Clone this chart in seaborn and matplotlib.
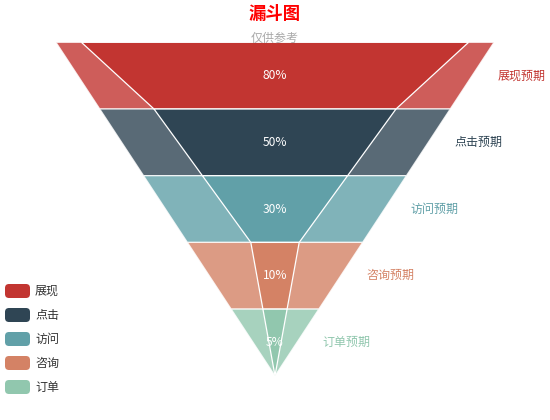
import matplotlib
matplotlib.use('Agg')
import matplotlib.pyplot as plt
import seaborn as sns
from matplotlib.patches import Polygon, FancyBboxPatch

# ---- data ----
stages = ['展现', '点击', '访问', '咨询', '订单']
expected = [100, 80, 60, 40, 20]
actual = [80, 50, 30, 10, 5]
colors_hex = ['#c23531', '#2f4554', '#61a0a8', '#d48265', '#91c7ae']
title_text = '漏斗图'
subtitle_text = '仅供参考'
expected_suffix = '预期'

sns.set_theme(style='white')
plt.rcParams['font.family'] = ['Noto Sans CJK SC', 'DejaVu Sans']
palette = sns.color_palette(colors_hex)

W, H = 550, 420
fig = plt.figure(figsize=(5.5, 4.2), dpi=100)
ax = fig.add_axes([0, 0, 1, 1])
ax.set_xlim(0, W)
ax.set_ylim(H, 0)
ax.axis('off')

cx = 275.0
top = 42.3
row_h = 66.7
exp_scale = 2.19   # px of half-width per unit value (expected)
act_scale = 2.42   # px of half-width per unit value (actual)
fs = 8.64          # 12 px
lw = 0.9

n = len(stages)
for i in range(n):
    y0 = top + i * row_h
    y1 = y0 + row_h
    ym = (y0 + y1) / 2
    # expected
    et = expected[i] * exp_scale
    eb = (expected[i + 1] if i + 1 < n else 0) * exp_scale
    ax.add_patch(Polygon([(cx - et, y0), (cx + et, y0), (cx + eb, y1), (cx - eb, y1)],
                         closed=True, facecolor=palette[i], alpha=0.8,
                         edgecolor='white', linewidth=lw, zorder=2))
    ax.text(cx + (et + eb) / 2 + 26, ym, stages[i] + expected_suffix,
            color=palette[i], fontsize=fs, ha='left', va='center', zorder=5)

for i in range(n):
    y0 = top + i * row_h
    y1 = y0 + row_h
    ym = (y0 + y1) / 2
    at = actual[i] * act_scale
    ab = (actual[i + 1] if i + 1 < n else 0) * act_scale
    ax.add_patch(Polygon([(cx - at, y0), (cx + at, y0), (cx + ab, y1), (cx - ab, y1)],
                         closed=True, facecolor=palette[i], alpha=1.0,
                         edgecolor='white', linewidth=lw, zorder=3))
    ax.text(cx, ym, f'{actual[i]}%', color='white', fontsize=fs,
            ha='center', va='center', zorder=6)

# title
ax.text(cx, 14, title_text, color='#ff0000', fontsize=12.5, fontweight='bold',
        ha='center', va='center', zorder=7)
ax.text(cx, 38, subtitle_text, color='#aaaaaa', fontsize=fs, style='italic',
        ha='center', va='center', zorder=7)

# legend
leg_y0 = 291
leg_dy = 24
for i in range(n):
    cy = leg_y0 + i * leg_dy
    ax.add_patch(FancyBboxPatch((5, cy - 7), 25, 14,
                                boxstyle='round,pad=0,rounding_size=4',
                                facecolor=palette[i], edgecolor='none', zorder=4))
    ax.text(35, cy, stages[i], color='#333333', fontsize=fs,
            ha='left', va='center', zorder=4)

fig.savefig('out.png', dpi=100)
